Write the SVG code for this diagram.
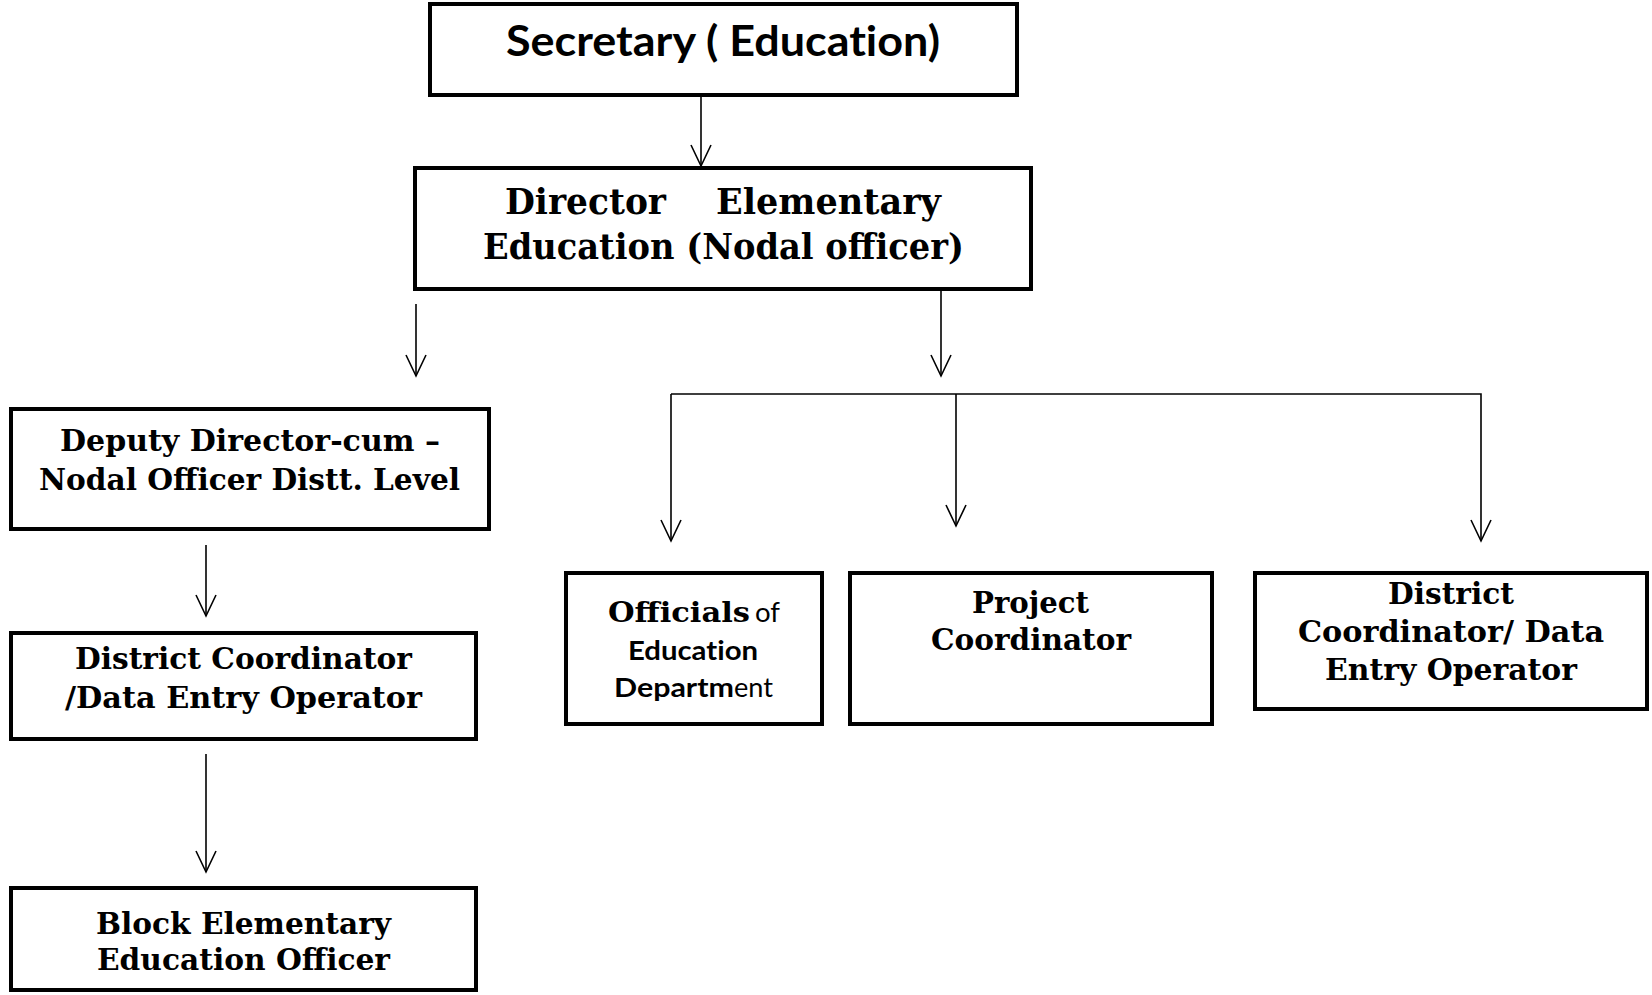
<svg xmlns="http://www.w3.org/2000/svg" width="1652" height="995" viewBox="0 0 1652 995">
<style>
.box{fill:#fff;stroke:#000;stroke-width:4}
.ser{font-family:"DejaVu Serif","Liberation Serif",serif;font-weight:bold;fill:#000}
.sans{font-family:Lato,"Open Sans","Liberation Sans",sans-serif;fill:#000;font-variant-ligatures:none}
.con{fill:none;stroke:#000;stroke-width:1.6}
</style>
<defs>
<marker id="ah" markerUnits="userSpaceOnUse" markerWidth="30" markerHeight="30" refX="0" refY="0" orient="auto" overflow="visible">
<path d="M-21,-10 L0,0 L-21,10" fill="none" stroke="#000" stroke-width="1.6"/>
</marker>
</defs>
<g id="connectors">
<line class="con" x1="701" y1="95" x2="701" y2="166" marker-end="url(#ah)"/>
<line class="con" x1="416" y1="304" x2="416" y2="376" marker-end="url(#ah)"/>
<line class="con" x1="941" y1="291" x2="941" y2="376" marker-end="url(#ah)"/>
<polyline class="con" points="671,394 1481,394 1481,541" marker-end="url(#ah)"/>
<line class="con" x1="671" y1="394" x2="671" y2="541" marker-end="url(#ah)"/>
<line class="con" x1="956" y1="394" x2="956" y2="526" marker-end="url(#ah)"/>
<line class="con" x1="206" y1="545" x2="206" y2="616" marker-end="url(#ah)"/>
<line class="con" x1="206" y1="754" x2="206" y2="872" marker-end="url(#ah)"/>
</g>
<g id="secretary">
<rect class="box" x="430" y="4" width="587" height="91"/>
<text class="sans" font-weight="bold" font-size="42" x="506" y="56" textLength="434" lengthAdjust="spacingAndGlyphs">Secretary ( Education)</text>
</g>
<g id="director">
<rect class="box" x="415" y="168" width="616" height="121"/>
<text class="ser" font-size="35" x="505" y="214" textLength="161" lengthAdjust="spacingAndGlyphs">Director</text>
<text class="ser" font-size="35" x="716" y="214" textLength="225" lengthAdjust="spacingAndGlyphs">Elementary</text>
<text class="ser" font-size="35" x="483" y="259" textLength="481" lengthAdjust="spacingAndGlyphs">Education (Nodal officer)</text>
</g>
<g id="deputy">
<rect class="box" x="11" y="409" width="478" height="120"/>
<text class="ser" font-size="29" x="60" y="451" textLength="380" lengthAdjust="spacingAndGlyphs">Deputy Director-cum –</text>
<text class="ser" font-size="29" x="39" y="490" textLength="421" lengthAdjust="spacingAndGlyphs">Nodal Officer Distt. Level</text>
</g>
<g id="district-left">
<rect class="box" x="11" y="633" width="465" height="106"/>
<text class="ser" font-size="29" x="75" y="669" textLength="337" lengthAdjust="spacingAndGlyphs">District Coordinator</text>
<text class="ser" font-size="29" x="65" y="708" textLength="357" lengthAdjust="spacingAndGlyphs">/Data Entry Operator</text>
</g>
<g id="block">
<rect class="box" x="11" y="888" width="465" height="102"/>
<text class="ser" font-size="29" x="96" y="934" textLength="295" lengthAdjust="spacingAndGlyphs">Block Elementary</text>
<text class="ser" font-size="29" x="97" y="970" textLength="293" lengthAdjust="spacingAndGlyphs">Education Officer</text>
</g>
<g id="officials">
<rect class="box" x="566" y="573" width="256" height="151"/>
<text class="ser" font-size="27" x="608" y="622" textLength="142" lengthAdjust="spacingAndGlyphs">Officials</text>
<text class="sans" font-size="27" x="755" y="622" textLength="25" lengthAdjust="spacingAndGlyphs">of</text>
<text class="sans" font-weight="bold" font-size="27" x="628" y="660" textLength="130" lengthAdjust="spacingAndGlyphs">Education</text>
<text class="sans" font-weight="bold" font-size="27" x="614" y="697" textLength="120" lengthAdjust="spacingAndGlyphs">Departm</text>
<text class="sans" font-size="27" x="734" y="697" textLength="39" lengthAdjust="spacingAndGlyphs">ent</text>
</g>
<g id="project">
<rect class="box" x="850" y="573" width="362" height="151"/>
<text class="ser" font-size="29" x="972" y="613" textLength="117" lengthAdjust="spacingAndGlyphs">Project</text>
<text class="ser" font-size="29" x="931" y="650" textLength="200" lengthAdjust="spacingAndGlyphs">Coordinator</text>
</g>
<g id="district-right">
<rect class="box" x="1255" y="573" width="392" height="136"/>
<text class="ser" font-size="29" x="1388" y="604" textLength="126" lengthAdjust="spacingAndGlyphs">District</text>
<text class="ser" font-size="29" x="1298" y="642" textLength="306" lengthAdjust="spacingAndGlyphs">Coordinator/ Data</text>
<text class="ser" font-size="29" x="1325" y="680" textLength="252" lengthAdjust="spacingAndGlyphs">Entry Operator</text>
</g>
</svg>
